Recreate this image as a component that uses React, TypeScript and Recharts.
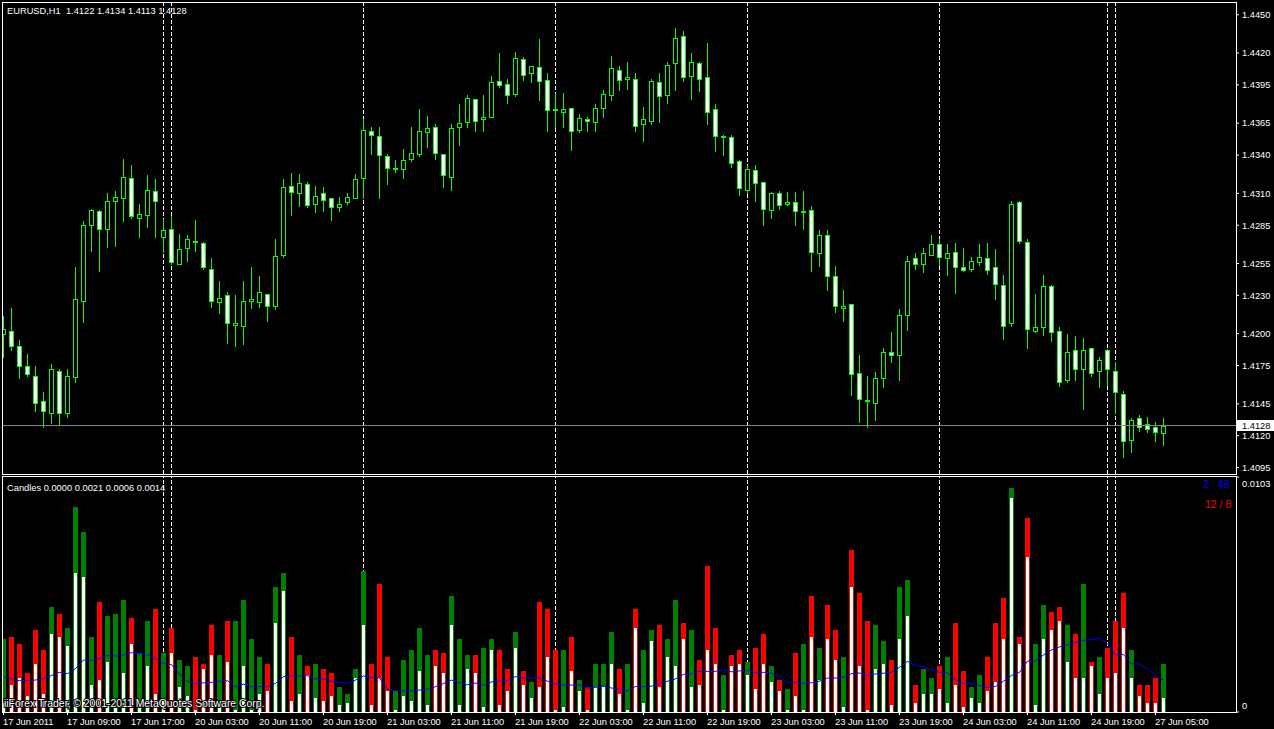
import React from 'react';
import { ComposedChart, Bar, Line, XAxis, YAxis, ReferenceLine } from 'recharts';

const symbolTitle = 'EURUSD,H1  1.4122 1.4134 1.4113 1.4128';
const indicatorTitle = 'Candles 0.0000 0.0021 0.0006 0.0014';
const watermark = 'iiForex Trader, \u00A9 2001-2011 MetaQuotes Software Corp.';
const timerText = '2 : 48';
const ratioText = '12 / 8';
const bidPrice = 1.4128;

const opens = [
  1.4200,1.4202,1.4190,1.4175,1.4167,1.4147,1.4138,1.4171,1.4138,1.4166,
  1.4226,1.4285,1.4296,1.4282,1.4304,1.4306,1.4322,1.4291,1.4293,1.4312,
  1.4276,1.4282,1.4255,1.4267,1.4273,1.4271,1.4251,1.4225,1.4230,1.4207,
  1.4206,1.4226,1.4225,1.4231,1.4222,1.4262,1.4316,1.4310,1.4317,1.4302,
  1.4310,1.4306,1.4299,1.4303,1.4306,1.4322,1.4359,1.4355,1.4339,1.4329,
  1.4329,1.4337,1.4341,1.4358,1.4362,1.4341,1.4323,1.4362,1.4366,1.4384,
  1.4368,1.4370,1.4398,1.4396,1.4388,1.4415,1.4404,1.4409,1.4399,1.4376,
  1.4374,1.4377,1.4360,1.4368,1.4366,1.4377,1.4387,1.4407,1.4400,1.4400,
  1.4364,1.4367,1.4397,1.4387,1.4412,1.4433,1.4402,1.4412,1.4401,1.4376,
  1.4354,1.4354,1.4335,1.4313,1.4328,1.4319,1.4297,1.4310,1.4302,1.4303,
  1.4295,1.4297,1.4263,1.4277,1.4245,1.4220,1.4223,1.4169,1.4148,1.4146,
  1.4165,1.4186,1.4183,1.4215,1.4259,1.4255,1.4262,1.4270,1.4259,1.4264,
  1.4252,1.4251,1.4256,1.4259,1.4252,1.4238,1.4208,1.4303,1.4272,1.4202,
  1.4205,1.4237,1.4202,1.4164,1.4187,1.4172,1.4189,1.4171,1.4187,1.4171,
  1.4153,1.4117,1.4134,1.4129,1.4127,1.4122,
];
const highs = [
  1.4214,1.4220,1.4195,1.4184,1.4175,1.4154,1.4176,1.4172,1.4172,1.4252,
  1.4288,1.4298,1.4297,1.4310,1.4312,1.4337,1.4332,1.4302,1.4324,1.4321,
  1.4290,1.4292,1.4278,1.4277,1.4289,1.4272,1.4259,1.4241,1.4233,1.4230,
  1.4241,1.4252,1.4245,1.4231,1.4274,1.4321,1.4326,1.4325,1.4319,1.4316,
  1.4315,1.4306,1.4307,1.4310,1.4325,1.4368,1.4362,1.4362,1.4341,1.4336,
  1.4345,1.4362,1.4376,1.4371,1.4364,1.4341,1.4364,1.4380,1.4387,1.4384,
  1.4387,1.4402,1.4420,1.4400,1.4421,1.4417,1.4410,1.4431,1.4404,1.4389,
  1.4389,1.4377,1.4372,1.4370,1.4380,1.4391,1.4418,1.4410,1.4413,1.4404,
  1.4378,1.4400,1.4404,1.4413,1.4440,1.4437,1.4420,1.4413,1.4428,1.4380,
  1.4356,1.4356,1.4336,1.4332,1.4332,1.4319,1.4311,1.4312,1.4311,1.4311,
  1.4312,1.4300,1.4281,1.4281,1.4253,1.4234,1.4223,1.4183,1.4167,1.4170,
  1.4189,1.4201,1.4219,1.4261,1.4263,1.4267,1.4277,1.4274,1.4270,1.4271,
  1.4267,1.4260,1.4270,1.4271,1.4266,1.4246,1.4304,1.4304,1.4274,1.4231,
  1.4246,1.4238,1.4205,1.4200,1.4198,1.4197,1.4189,1.4182,1.4188,1.4178,
  1.4155,1.4134,1.4136,1.4135,1.4131,1.4134,
];
const lows = [
  1.4182,1.4187,1.4165,1.4167,1.4139,1.4127,1.4130,1.4129,1.4135,1.4162,
  1.4209,1.4265,1.4249,1.4268,1.4269,1.4288,1.4291,1.4276,1.4284,1.4276,
  1.4264,1.4255,1.4255,1.4257,1.4265,1.4251,1.4221,1.4216,1.4193,1.4190,
  1.4192,1.4220,1.4221,1.4210,1.4219,1.4260,1.4293,1.4300,1.4299,1.4295,
  1.4296,1.4289,1.4296,1.4302,1.4306,1.4306,1.4341,1.4306,1.4317,1.4327,
  1.4322,1.4335,1.4339,1.4346,1.4337,1.4315,1.4313,1.4348,1.4362,1.4359,
  1.4359,1.4370,1.4393,1.4381,1.4386,1.4399,1.4397,1.4383,1.4359,1.4362,
  1.4362,1.4344,1.4358,1.4359,1.4359,1.4370,1.4383,1.4391,1.4392,1.4359,
  1.4351,1.4364,1.4366,1.4381,1.4391,1.4398,1.4384,1.4390,1.4364,1.4343,
  1.4340,1.4331,1.4309,1.4310,1.4304,1.4285,1.4291,1.4298,1.4301,1.4285,
  1.4282,1.4249,1.4253,1.4234,1.4217,1.4210,1.4152,1.4131,1.4127,1.4132,
  1.4158,1.4178,1.4164,1.4203,1.4251,1.4248,1.4262,1.4254,1.4246,1.4232,
  1.4249,1.4249,1.4254,1.4247,1.4227,1.4196,1.4206,1.4271,1.4189,1.4201,
  1.4199,1.4194,1.4159,1.4162,1.4164,1.4141,1.4167,1.4158,1.4160,1.4138,
  1.4103,1.4107,1.4124,1.4123,1.4116,1.4113,
];
const closes = [
  1.4204,1.4190,1.4175,1.4168,1.4146,1.4139,1.4172,1.4138,1.4167,1.4227,
  1.4285,1.4297,1.4282,1.4304,1.4307,1.4323,1.4292,1.4294,1.4313,1.4304,
  1.4281,1.4256,1.4266,1.4274,1.4272,1.4252,1.4226,1.4228,1.4208,1.4208,
  1.4226,1.4227,1.4233,1.4222,1.4261,1.4315,1.4311,1.4318,1.4301,1.4308,
  1.4305,1.4299,1.4302,1.4307,1.4321,1.4360,1.4356,1.4340,1.4330,1.4330,
  1.4336,1.4342,1.4359,1.4361,1.4342,1.4324,1.4361,1.4365,1.4385,1.4367,
  1.4370,1.4397,1.4395,1.4387,1.4416,1.4403,1.4410,1.4398,1.4375,1.4375,
  1.4376,1.4359,1.4369,1.4367,1.4377,1.4388,1.4408,1.4399,1.4401,1.4363,
  1.4368,1.4398,1.4386,1.4411,1.4432,1.4401,1.4413,1.4400,1.4374,1.4355,
  1.4355,1.4334,1.4314,1.4329,1.4318,1.4298,1.4310,1.4301,1.4303,1.4296,
  1.4296,1.4264,1.4277,1.4245,1.4222,1.4222,1.4168,1.4149,1.4147,1.4165,
  1.4186,1.4183,1.4215,1.4257,1.4255,1.4263,1.4270,1.4260,1.4263,1.4252,
  1.4250,1.4257,1.4260,1.4250,1.4239,1.4206,1.4302,1.4273,1.4204,1.4205,
  1.4237,1.4201,1.4162,1.4186,1.4172,1.4187,1.4169,1.4179,1.4172,1.4154,
  1.4116,1.4132,1.4127,1.4125,1.4123,1.4128,
];
// blue average line of the candle ranges (price units)
const rangeAverage = [
  0.00155,0.00145,0.00137,0.00138,0.00140,0.00147,0.00160,0.00174,0.00168,0.00190,
  0.00228,0.00226,0.00235,0.00248,0.00245,0.00250,0.00260,0.00255,0.00251,0.00233,
  0.00214,0.00208,0.00167,0.00134,0.00125,0.00128,0.00130,0.00134,0.00137,0.00111,
  0.00122,0.00111,0.00112,0.00112,0.00125,0.00155,0.00157,0.00158,0.00159,0.00145,
  0.00145,0.00134,0.00130,0.00125,0.00140,0.00158,0.00152,0.00149,0.00100,0.00093,
  0.00093,0.00093,0.00096,0.00100,0.00111,0.00125,0.00140,0.00128,0.00119,0.00127,
  0.00118,0.00132,0.00137,0.00137,0.00155,0.00150,0.00149,0.00149,0.00135,0.00122,
  0.00119,0.00118,0.00118,0.00105,0.00108,0.00114,0.00105,0.00100,0.00093,0.00112,
  0.00111,0.00113,0.00125,0.00135,0.00145,0.00165,0.00167,0.00178,0.00178,0.00178,
  0.00185,0.00176,0.00180,0.00184,0.00172,0.00174,0.00170,0.00155,0.00132,0.00128,
  0.00125,0.00128,0.00135,0.00149,0.00149,0.00152,0.00168,0.00171,0.00160,0.00167,
  0.00170,0.00174,0.00196,0.00222,0.00203,0.00198,0.00185,0.00174,0.00171,0.00142,
  0.00125,0.00125,0.00115,0.00107,0.00112,0.00135,0.00160,0.00174,0.00223,0.00224,
  0.00250,0.00272,0.00285,0.00295,0.00305,0.00314,0.00318,0.00323,0.00300,0.00250,
  0.00252,0.00211,0.00210,0.00190,0.00160,0.00140,
];

const timeTickIndex = [0,8,16,24,32,40,48,56,64,72,80,88,96,104,112,120,128,136,144];
const timeTickLabels = [
  '17 Jun 2011','17 Jun 09:00','17 Jun 17:00','20 Jun 03:00','20 Jun 11:00','20 Jun 19:00',
  '21 Jun 03:00','21 Jun 11:00','21 Jun 19:00','22 Jun 03:00','22 Jun 11:00','22 Jun 19:00',
  '23 Jun 03:00','23 Jun 11:00','23 Jun 19:00','24 Jun 03:00','24 Jun 11:00','24 Jun 19:00',
  '27 Jun 05:00',
];
const separatorIndex = [20, 21, 45, 69, 93, 117, 138, 139];
const priceTicks = [1.4450,1.4420,1.4395,1.4365,1.4340,1.4310,1.4285,1.4255,1.4230,1.4200,1.4175,1.4145,1.4120,1.4095];
const priceDomain: [number, number] = [1.4090, 1.4460];
const indicatorTicks = [0, 0.0103];
const indicatorDomain: [number, number] = [0, 0.0103];

const X_DOMAIN: [number, number] = [-0.1875, 154.0625];
const FONT = '"Liberation Sans", Arial, sans-serif';
const FS = 9.3;

const rows = opens.map((o, i) => ({
  i,
  open: o,
  high: highs[i],
  low: lows[i],
  close: closes[i],
  hl: [lows[i], highs[i]],
  range: highs[i] - lows[i],
  body: Math.abs(closes[i] - o),
  ma: rangeAverage[i],
}));

const CandleShape = (props: any) => {
  const { x, y, width, height, payload } = props;
  if (![x, y, width, height].every((v) => typeof v === 'number' && isFinite(v))) return null;
  const cx = Math.floor(x + width / 2);
  const k = height / (payload.high - payload.low);
  const yO = y + (payload.high - payload.open) * k;
  const yC = y + (payload.high - payload.close) * k;
  const top = Math.round(Math.min(yO, yC));
  const bot = Math.round(Math.max(yO, yC));
  const bull = payload.close >= payload.open;
  return (
    <g>
      <line x1={cx + 0.5} x2={cx + 0.5} y1={Math.round(y)} y2={Math.round(y + height) + 1} stroke="#00ff00" strokeWidth={1} />
      <rect x={cx - 1.5} y={top + 0.5} width={4} height={Math.max(bot - top, 1)} fill={bull ? '#000000' : '#ffffff'} stroke="#00ff00" strokeWidth={1} />
    </g>
  );
};

const RangeShape = (props: any) => {
  const { x, y, width, height, payload } = props;
  if (![x, y, width, height].every((v) => typeof v === 'number' && isFinite(v))) return null;
  const cx = Math.floor(x + width / 2);
  const base = Math.round(y + height);
  const topR = Math.round(y);
  const k = height / payload.range;
  const topB = Math.round(base - payload.body * k);
  const bull = payload.close >= payload.open;
  return (
    <g>
      <rect x={cx - 2} y={topR} width={5} height={Math.max(base - topR, 0)} fill={bull ? '#008000' : '#ff0000'} />
      <rect x={cx - 1} y={topB} width={3} height={Math.max(base - topB, 0)} fill="#ffffff" />
    </g>
  );
};

const BidLabel = (props: any) => {
  const vb = props.viewBox || {};
  const bx = vb.x + vb.width + 1;
  const by = Math.round(vb.y) - 6;
  return (
    <g>
      <rect x={bx} y={by} width={38} height={11} fill="#ffffff" />
      <text x={bx + 5} y={by + 9} fill="#000000" fontSize={FS} fontFamily={FONT}>{bidPrice.toFixed(4)}</text>
    </g>
  );
};

const TimeTick = (props: any) => {
  const { x, y, payload } = props;
  const idx = timeTickIndex.indexOf(payload.value);
  return (
    <text x={x - 0.5} y={y + 4.7} dy="0.355em" fill="#ffffff" fontSize={FS} fontFamily={FONT} textAnchor="start">
      {idx >= 0 ? timeTickLabels[idx] : ''}
    </text>
  );
};

const IndicatorTick = (props: any) => {
  const { x, y, payload } = props;
  const isZero = payload.value === 0;
  return (
    <text x={x} y={y + (isZero ? -6 : 7)} dy="0.355em" fill="#ffffff" fontSize={FS} fontFamily={FONT} textAnchor="start">
      {isZero ? '0' : payload.value.toFixed(4)}
    </text>
  );
};

const MAIN_MARGIN = { top: 2, right: 0, bottom: 2, left: 2 };
const IND_MARGIN = { top: 1, right: 0, bottom: 0, left: 2 };

export default function App() {
  const layer: React.CSSProperties = { position: 'absolute', left: 0 };
  return (
    <div style={{ position: 'absolute', left: 0, top: 0, width: 1274, height: 729, background: '#000', overflow: 'hidden' }}>
      {/* period separators (behind the bars) */}
      <div style={{ ...layer, top: 0 }}>
        <ComposedChart width={1274} height={476} data={rows} margin={MAIN_MARGIN}>
          <XAxis type="number" dataKey="i" domain={X_DOMAIN} allowDataOverflow hide />
          <YAxis orientation="right" type="number" width={38} domain={priceDomain} allowDataOverflow tick={false} tickLine={false} axisLine={false} />
          {separatorIndex.map((s) => (
            <ReferenceLine key={s} x={s} stroke="#ffffff" strokeDasharray="4 2" />
          ))}
        </ComposedChart>
      </div>
      <div style={{ ...layer, top: 476 }}>
        <ComposedChart width={1274} height={253} data={rows} margin={IND_MARGIN}>
          <XAxis type="number" dataKey="i" domain={X_DOMAIN} allowDataOverflow height={17} tick={false} tickLine={false} axisLine={false} />
          <YAxis orientation="right" type="number" width={38} domain={indicatorDomain} allowDataOverflow tick={false} tickLine={false} axisLine={false} />
          {separatorIndex.map((s) => (
            <ReferenceLine key={s} x={s} stroke="#ffffff" strokeDasharray="4 2" />
          ))}
        </ComposedChart>
      </div>

      <div style={{ ...layer, top: 0 }}>
        <ComposedChart width={1274} height={476} data={rows} margin={MAIN_MARGIN}>
          <XAxis type="number" dataKey="i" domain={X_DOMAIN} allowDataOverflow hide />
          <YAxis
            orientation="right"
            type="number"
            width={38}
            domain={priceDomain}
            allowDataOverflow
            ticks={priceTicks}
            interval={0}
            tickFormatter={(v: number) => v.toFixed(4)}
            tick={{ fill: '#ffffff', fontSize: FS, fontFamily: FONT }}
            tickSize={3}
            tickMargin={3}
            axisLine={false}
            stroke="#ffffff"
          />
          <ReferenceLine y={bidPrice} stroke="#778899" label={(p: any) => <BidLabel {...p} />} />
          <Bar dataKey="hl" barSize={5} shape={(p: any) => <CandleShape {...p} />} isAnimationActive={false} />
        </ComposedChart>
      </div>
      <div style={{ ...layer, top: 476 }}>
        <ComposedChart width={1274} height={253} data={rows} margin={IND_MARGIN}>
          <XAxis
            type="number"
            dataKey="i"
            domain={X_DOMAIN}
            allowDataOverflow
            ticks={timeTickIndex}
            interval={0}
            tickSize={3}
            tickMargin={2}
            height={17}
            axisLine={false}
            stroke="#ffffff"
            tick={(p: any) => <TimeTick {...p} />}
          />
          <YAxis
            orientation="right"
            type="number"
            width={38}
            domain={indicatorDomain}
            allowDataOverflow
            ticks={indicatorTicks}
            interval={0}
            tickSize={3}
            tickMargin={3}
            axisLine={false}
            stroke="#ffffff"
            tick={(p: any) => <IndicatorTick {...p} />}
          />
          <Bar dataKey="range" barSize={5} shape={(p: any) => <RangeShape {...p} />} isAnimationActive={false} />
          <Line dataKey="ma" type="linear" stroke="#0000ff" strokeWidth={1} dot={false} activeDot={false} isAnimationActive={false} />
        </ComposedChart>
      </div>
      <svg width={1274} height={729} style={{ position: 'absolute', left: 0, top: 0, pointerEvents: 'none' }}>
        <rect x={2.5} y={2.5} width={1234} height={472} fill="none" stroke="#ffffff" />
        <rect x={2.5} y={476.5} width={1234} height={236} fill="none" stroke="#ffffff" />
        <text x={7} y={14} fill="#ffffff" fontSize={FS} fontFamily={FONT} style={{ whiteSpace: 'pre' }}>{symbolTitle}</text>
        <text x={7} y={491} fill="#ffffff" fontSize={FS} fontFamily={FONT}>{indicatorTitle}</text>
        <text x={1203} y={488} fill="#0000ff" fontSize={10.5} fontFamily={FONT} style={{ whiteSpace: 'pre' }}>{timerText}</text>
        <text x={1205} y={508} fill="#ff0000" fontSize={10.5} fontFamily={FONT} style={{ whiteSpace: 'pre' }}>{ratioText}</text>
        <text x={4} y={707} fill="#ffffff" fontSize={10.4} fontFamily={FONT} stroke="#000000" strokeWidth={2} paintOrder="stroke">{watermark}</text>
      </svg>
    </div>
  );
}
